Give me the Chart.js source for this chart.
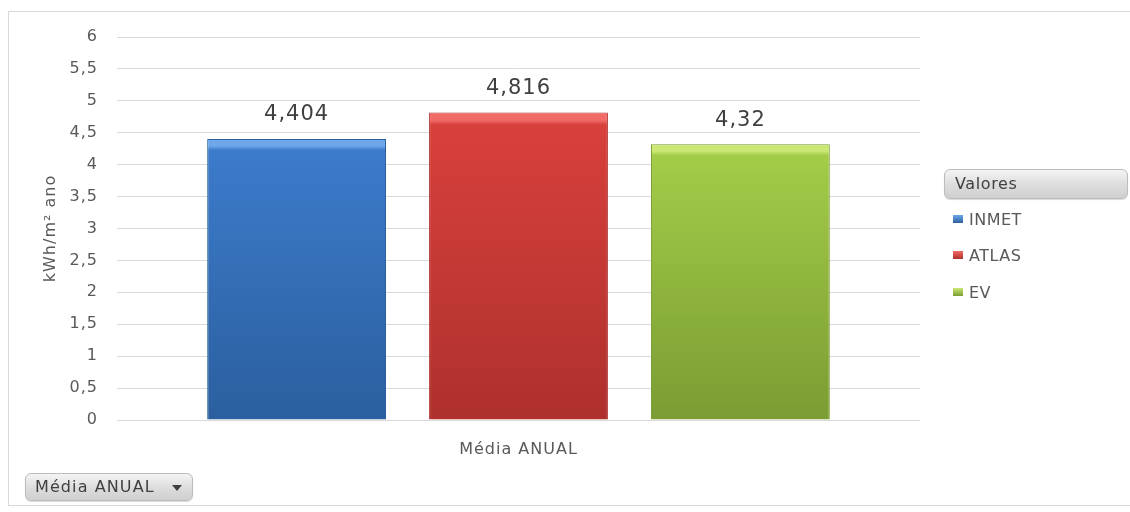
<!DOCTYPE html>
<html>
<head>
<meta charset="utf-8">
<script src="https://cdn.jsdelivr.net/npm/chart.js@4.4.1/dist/chart.umd.min.js"></script>
<style>
  html, body { margin: 0; padding: 0; background: #fff; }
  #wrap { position: relative; width: 1130px; height: 512px; overflow: hidden; font-family: "DejaVu Sans", sans-serif; }
  #chart { position: absolute; left: 0; top: 0; }
  #frame { position: absolute; left: 8px; top: 11px; width: 1140px; height: 495px; border: 1px solid #d9d9d9; box-sizing: border-box; }
  .btn {
    position: absolute; box-sizing: border-box;
    border: 1px solid #bcbcbc; border-radius: 6px;
    background: linear-gradient(#f4f4f4, #dcdcdc 55%, #cfcfcf);
    color: #404040; font-size: 16px; letter-spacing: 0.6px;
    box-shadow: 0 1px 1px rgba(0,0,0,0.15);
  }
  #valores { left: 944px; top: 169px; width: 184px; height: 30px; line-height: 28px; padding-left: 10px; }
  #filtro { left: 25px; top: 473px; width: 168px; height: 28px; line-height: 26px; padding-left: 9px; letter-spacing: 1.1px; }
  #filtro .arrow { position: absolute; right: 10px; top: 11px; width: 0; height: 0;
    border-left: 5px solid transparent; border-right: 5px solid transparent; border-top: 6px solid #404040; }
  .leg { position: absolute; left: 953px; font-size: 16px; letter-spacing: 0.5px; color: #595959; }
  .leg i { display: inline-block; width: 10px; height: 8px; margin-right: 6px; vertical-align: 2px; }
</style>
</head>
<body>
<div id="wrap">
  <div id="frame"></div>
  <canvas id="chart" width="1130" height="512"></canvas>
  <div id="valores" class="btn">Valores</div>
  <div id="legend"></div>
  <div id="filtro" class="btn">Média ANUAL<span class="arrow"></span></div>
</div>
<script>
// data
const categories = ['Média ANUAL'];
const seriesNames = ['INMET', 'ATLAS', 'EV'];
const seriesValues = [4.404, 4.816, 4.32];
const yAxisTitle = 'kWh/m² ano';
const yMin = 0, yMax = 6, yStep = 0.5;

// colors per series: [light top, body, dark bottom]
const seriesColors = [
  ['#6ea8ea', '#3c7bcb', '#2b5f9f'],
  ['#f26a66', '#d8403c', '#ae302d'],
  ['#cbe874', '#a3cc48', '#7b9c33']
];

const fmt = v => String(v).replace('.', ',');

function barFill(i) {
  return (ctx) => {
    const chart = ctx.chart;
    const c = seriesColors[i];
    const yScale = chart.scales.y;
    if (!chart.chartArea || !yScale) return c[1];
    const top = yScale.getPixelForValue(seriesValues[i]);
    const base = yScale.getPixelForValue(0);
    if (!Number.isFinite(top) || !Number.isFinite(base)) return c[1];
    const g = chart.ctx.createLinearGradient(0, top, 0, base);
    g.addColorStop(0, c[0]);
    g.addColorStop(0.025, c[0]);
    g.addColorStop(0.04, c[1]);
    g.addColorStop(1, c[2]);
    return g;
  };
}

// the reference text is a bit wider than DejaVu, so space the letters out
const wideText = {
  id: 'wideText',
  beforeLayout(chart) { chart.ctx.letterSpacing = '1px'; },
  beforeDraw(chart) { chart.ctx.letterSpacing = '1px'; }
};

// value labels above bars
const valueLabels = {
  id: 'valueLabels',
  afterDatasetsDraw(chart) {
    const ctx = chart.ctx;
    ctx.save();
    ctx.font = '21px "DejaVu Sans", sans-serif';
    ctx.fillStyle = '#404040';
    ctx.textAlign = 'center';
    ctx.textBaseline = 'middle';
    chart.data.datasets.forEach((ds, i) => {
      const bar = chart.getDatasetMeta(i).data[0];
      ctx.fillText(fmt(ds.data[0]), bar.x, bar.y - 24);
    });
    ctx.restore();
  }
};

new Chart(document.getElementById('chart'), {
  type: 'bar',
  data: {
    labels: categories,
    datasets: seriesNames.map((name, i) => ({
      label: name,
      data: [seriesValues[i]],
      backgroundColor: barFill(i),
      borderColor: seriesColors[i][2],
      borderWidth: 1,
      categoryPercentage: 0.829,
      barPercentage: 0.806
    }))
  },
  options: {
    responsive: false,
    animation: false,
    layout: { padding: { left: 37, right: 210, top: 37, bottom: 0 } },
    plugins: {
      legend: { display: false },
      tooltip: { enabled: false }
    },
    scales: {
      x: {
        grid: { display: false },
        border: { display: false },
        ticks: { color: '#595959', font: { family: 'DejaVu Sans', size: 16 }, padding: 12 },
        afterFit(scale) { scale.height = 92; }
      },
      y: {
        min: yMin,
        max: yMax,
        grid: { color: '#d9d9d9', drawTicks: false },
        border: { display: false },
        ticks: {
          stepSize: yStep,
          color: '#595959',
          font: { family: 'DejaVu Sans', size: 16 },
          padding: 19,
          callback: v => fmt(v)
        },
        title: {
          display: true,
          text: yAxisTitle,
          color: '#595959',
          font: { family: 'DejaVu Sans', size: 16 },
          padding: { top: 4, bottom: 0 }
        },
        afterFit(scale) { scale.width = 80; }
      }
    }
  },
  plugins: [wideText, valueLabels]
});

// legend entries
const legendTops = [210, 246, 283];
document.getElementById('legend').innerHTML = seriesNames.map((name, i) =>
  `<div class="leg" style="top:${legendTops[i]}px"><i style="background:linear-gradient(${seriesColors[i][0]},${seriesColors[i][2]})"></i>${name}</div>`
).join('');
</script>
</body>
</html>
